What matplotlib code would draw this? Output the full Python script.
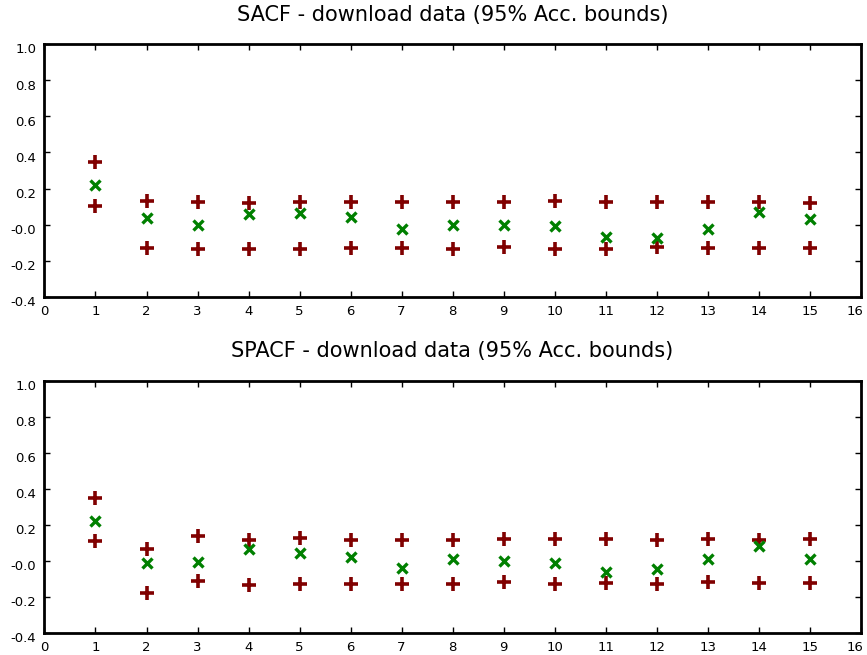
import numpy as np
import matplotlib
matplotlib.use("Agg")
import matplotlib.pyplot as plt
import matplotlib.transforms as mtransforms

# lags and sample (partial) autocorrelations with 95% bounds
lags = np.arange(1, 16)

sacf = [0.220, 0.037, -0.005, 0.059, 0.063, 0.043, -0.026, -0.005, 0.000,
        -0.007, -0.068, -0.075, -0.026, 0.070, 0.030]
sacf_upper = [0.345, 0.130, 0.124, 0.118, 0.127, 0.124, 0.124, 0.124, 0.124,
              0.131, 0.127, 0.127, 0.127, 0.126, 0.122]
sacf_lower = [0.103, -0.128, -0.136, -0.136, -0.134, -0.129, -0.129, -0.133,
              -0.125, -0.133, -0.133, -0.125, -0.129, -0.129, -0.130]

spacf = [0.221, -0.014, -0.007, 0.067, 0.042, 0.023, -0.038, 0.010, -0.001,
         -0.012, -0.062, -0.046, 0.008, 0.082, 0.008]
spacf_upper = [0.351, 0.064, 0.136, 0.114, 0.125, 0.116, 0.116, 0.116, 0.120,
               0.120, 0.123, 0.114, 0.123, 0.114, 0.120]
spacf_lower = [0.108, -0.181, -0.112, -0.133, -0.127, -0.131, -0.131, -0.131,
               -0.116, -0.127, -0.123, -0.127, -0.118, -0.123, -0.123]

titles = ["SACF - download data (95% Acc. bounds)",
          "SPACF - download data (95% Acc. bounds)"]

xticks = np.arange(0, 17)
yticks = [-0.4, -0.2, 0.0, 0.2, 0.4, 0.6, 0.8, 1.0]
ytick_labels = ["-0.4", "-0.2", "-0.0", "0.2", "0.4", "0.6", "0.8", "1.0"]

bound_color = "#800000"
acf_color = "#008000"

fig = plt.figure(figsize=(8.67, 6.55), dpi=100)
ax1 = fig.add_axes([0.0513, 0.547, 0.9414, 0.3854])
ax2 = fig.add_axes([0.0513, 0.034, 0.9414, 0.3843])

panels = [(ax1, sacf, sacf_upper, sacf_lower),
          (ax2, spacf, spacf_upper, spacf_lower)]

for (ax, vals, upper, lower), title in zip(panels, titles):
    ax.plot(lags, upper, linestyle="none", marker="+", color=bound_color,
            markersize=10, markeredgewidth=2.6)
    ax.plot(lags, lower, linestyle="none", marker="+", color=bound_color,
            markersize=10, markeredgewidth=2.6)
    ax.plot(lags, vals, linestyle="none", marker="x", color=acf_color,
            markersize=6.5, markeredgewidth=2.4)

    ax.set_xlim(0, 16)
    ax.set_ylim(-0.4, 1.0)
    ax.set_xticks(xticks)
    ax.set_yticks(yticks)
    ax.set_yticklabels(ytick_labels)
    ax.tick_params(direction="in", length=4, width=1, top=True, right=True,
                   labelsize=9.5, pad=6)
    for lbl in ax.get_yticklabels():
        lbl.set_transform(lbl.get_transform() + mtransforms.ScaledTranslation(
            0, -3 / 72, fig.dpi_scale_trans))
    # keep the last x label inside the figure
    last = ax.get_xticklabels()[-1]
    last.set_transform(last.get_transform() + mtransforms.ScaledTranslation(
        -4 / 72, 0, fig.dpi_scale_trans))
    for sp in ax.spines.values():
        sp.set_linewidth(2)
    ax.set_title(title, fontsize=15, pad=17)

fig.savefig("out.png", dpi=100)
